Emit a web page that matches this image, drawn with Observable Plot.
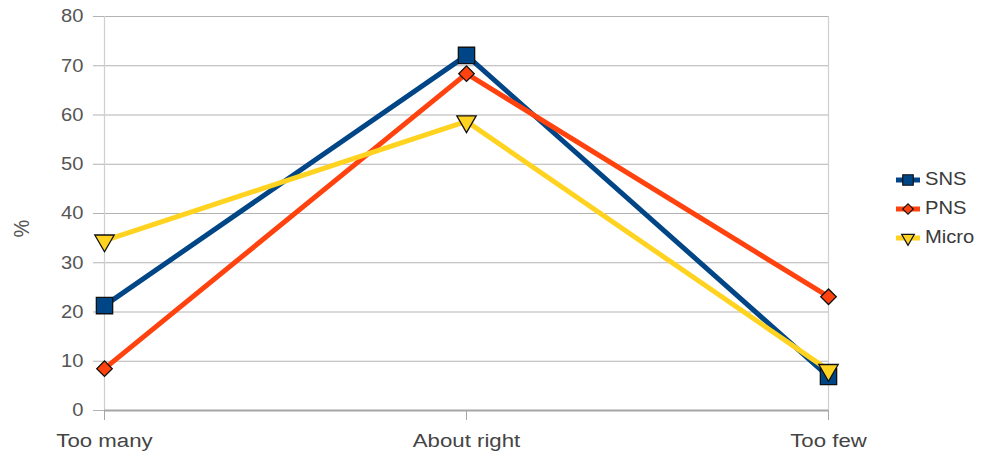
<!DOCTYPE html>
<html>
<head>
<meta charset="utf-8">
<script src="https://cdn.jsdelivr.net/npm/d3@7"></script>
<script src="https://cdn.jsdelivr.net/npm/@observablehq/plot@0.6"></script>
<style>
  html, body { margin: 0; padding: 0; background: #fff; }
  #wrap { position: relative; width: 982px; height: 457px; font-family: "Liberation Sans", Arial, sans-serif; }
  #legend { position: absolute; left: 894px; top: 165px; font-size: 18px; color: #3a3a3a; }
  .row { display: flex; align-items: center; height: 29px; }
  .row svg { margin-right: 3px; }
  .row span { display: inline-block; transform: scaleX(1.12); transform-origin: left center; }
</style>
</head>
<body>
<div id="wrap"><div id="legend"></div></div>
<script>
const categories = ["Too many", "About right", "Too few"];
const seriesNames = ["SNS", "PNS", "Micro"];
const sns = [21.3, 72.1, 6.9];
const pns = [8.5, 68.4, 23.1];
const micro = [34.5, 58.7, 8.2];
const yTicks = [0, 10, 20, 30, 40, 50, 60, 70, 80];
const yTitle = "%";
const colors = ["#004586", "#ff420e", "#ffd320"];
const symbols = ["square", "square", "triangle"];
const rotations = [0, 45, 180];
const radii = [9.2, 6.2, 7.2];

const values = [sns, pns, micro];
const data = [];
seriesNames.forEach((s, i) => categories.forEach((c, j) => data.push({series: s, cat: c, value: values[i][j]})));

const marks = [
  Plot.ruleY(yTicks.filter(d => d > 0), {stroke: "#b3b3b3", strokeWidth: 1.2}),
  Plot.ruleX([categories[0], categories[2]], {stroke: "#cfcfcf", strokeWidth: 1.2}),
  Plot.ruleY([0], {stroke: "#a6a6a6", strokeWidth: 1.8}),
  Plot.axisY(yTicks, {tickSize: 11, tickPadding: 10, stroke: "#b3b3b3", fill: "#555", fontSize: 18, label: null}),
  Plot.axisX(categories, {tickSize: 10, tickPadding: 13, stroke: "#a6a6a6", fill: "#444", fontSize: 19, label: null}),
  Plot.text([yTitle], {frameAnchor: "left", dx: -83, dy: 24, rotate: -90, fontSize: 20, fill: "#555", text: d => d})
];
seriesNames.forEach((s, i) => {
  const d = data.filter(r => r.series === s);
  marks.push(Plot.line(d, {x: "cat", y: "value", stroke: colors[i], strokeWidth: 5, strokeLinejoin: "round"}));
  marks.push(Plot.dot(d, {x: "cat", y: "value", symbol: symbols[i], r: radii[i], rotate: rotations[i], fill: colors[i], stroke: "#111", strokeWidth: 1.3}));
});

const chart = Plot.plot({
  width: 982,
  height: 457,
  marginTop: 16,
  marginBottom: 47,
  marginLeft: 104,
  marginRight: 154,
  style: {fontFamily: "'Liberation Sans', Arial, sans-serif", fontSize: "18px", color: "#555", background: "#fff"},
  x: {type: "point", domain: categories, padding: 0},
  y: {domain: [0, 80]},
  marks
});
document.getElementById("wrap").prepend(chart);

// stretch text horizontally like the reference rendering
chart.querySelectorAll("text").forEach(t => {
  const tr = t.getAttribute("transform");
  const isX = categories.includes(t.textContent);
  const k = isX ? 1.17 : 1.12;
  if (tr) {
    if (tr.includes("rotate")) t.setAttribute("transform", tr + ` scale(1,${k})`);
    else t.setAttribute("transform", tr + ` scale(${k},1)`);
  }
});

// legend
const legend = d3.select("#legend");
seriesNames.forEach((s, i) => {
  const row = legend.append("div").attr("class", "row");
  const svg = row.append("svg").attr("width", 28).attr("height", 20);
  svg.append("line").attr("x1", 2).attr("x2", 26).attr("y1", 10).attr("y2", 10).attr("stroke", colors[i]).attr("stroke-width", 5);
  const sym = [d3.symbolSquare, d3.symbolSquare, d3.symbolTriangle][i];
  const size = [110, 55, 70][i];
  svg.append("path").attr("d", d3.symbol(sym, size)()).attr("transform", `translate(14,10) rotate(${rotations[i]})`)
    .attr("fill", colors[i]).attr("stroke", "#111").attr("stroke-width", 1.2);
  row.append("span").text(s);
});
</script>
</body>
</html>
